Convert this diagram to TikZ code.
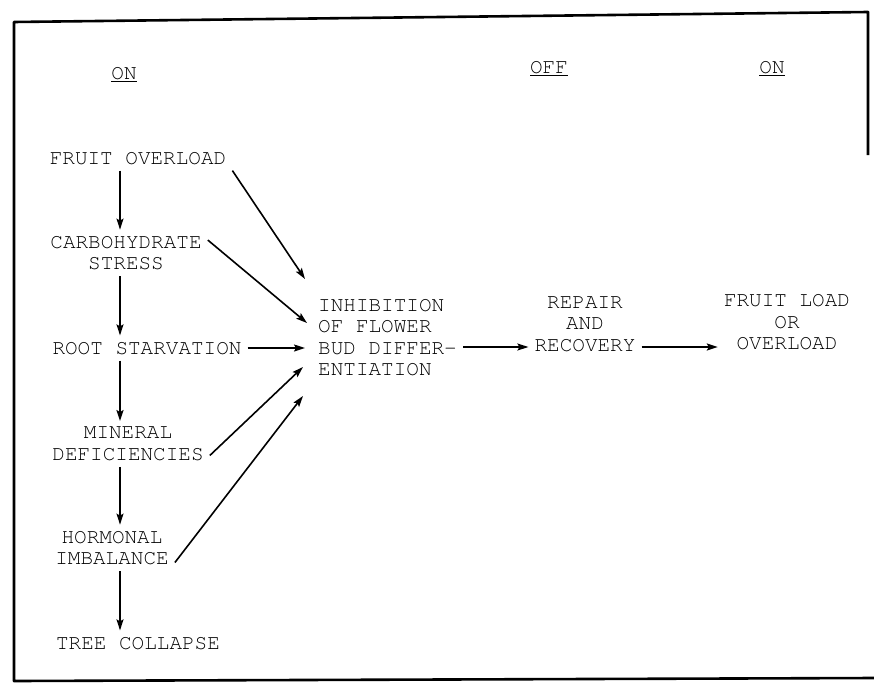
\documentclass[tikz,border=0pt]{standalone}
\usepackage[T1]{fontenc}
\usepackage{courier}
\usepackage{tikz}
\usetikzlibrary{arrows.meta,calc}
\tikzset{
  lbl/.style={font=\ttfamily\fontsize{21}{21.5}\selectfont,inner sep=6pt,align=center},
  flow/.style={line width=1.6pt,-{Stealth[length=11pt,width=7pt,inset=2pt]}},
  frame/.style={line width=2.6pt,line join=round},
}

\begin{document}
\begin{tikzpicture}[x=1pt,y=-1pt]
    \useasboundingbox (0,0) rectangle (874,682);
    % ------------- frame (right side only partly drawn) -------------
    \draw[frame] (868,155) -- (868,12) -- (14,22) -- (14,681) -- (874,678);
    % ------------- headings -------------
    \node[lbl] (on1) at (124,74) {\underline{ON}};
    \node[lbl] (off) at (549,68) {\underline{OFF}};
    \node[lbl] (on2) at (772,68) {\underline{ON}};
    % ------------- left column: the chain of causes -------------
    \node[lbl] (fo) at (138,158) {FRUIT OVERLOAD};
    \node[lbl] (cs) at (126,253) {CARBOHYDRATE\\STRESS};
    \node[lbl] (rs) at (147,348) {ROOT STARVATION};
    \node[lbl] (md) at (128,444) {MINERAL\\DEFICIENCIES};
    \node[lbl] (hi) at (112,548) {HORMONAL\\IMBALANCE};
    \node[lbl] (tc) at (138,643) {TREE COLLAPSE};
    % ------------- middle and right -------------
    \node[lbl,align=left,anchor=west] (inh) at (312,337.5) {INHIBITION\\OF FLOWER\\BUD DIFFER-\\ENTIATION};
    \node[lbl] (rr) at (585,324) {REPAIR\\AND\\RECOVERY};
    \node[lbl] (fl) at (787,322) {FRUIT LOAD\\OR\\OVERLOAD};
    % column of the down arrows, row of the right arrows
    \coordinate (col) at (120,0);
    \coordinate (row) at (0,347);
    % arrow heads arriving at the inhibition block
    \coordinate (i1) at (305,279);
    \coordinate (i2) at (307,323);
    \coordinate (i3) at (305,348);
    \coordinate (i4) at (303,367);
    \coordinate (i5) at (303,396);
    % ------------- arrows -------------
    \draw[flow] (fo.south -| col) -- (cs.north -| col);
    \draw[flow] (cs.south -| col) -- (rs.north -| col);
    \draw[flow] (rs.south -| col) -- (md.north -| col);
    \draw[flow] (md.south -| col) -- (hi.north -| col);
    \draw[flow] (hi.south -| col) -- (tc.north -| col);
    \draw[flow] (fo.south east) -- (i1);
    \draw[flow] (cs.9) -- (i2);
    \draw[flow] (rs.east) -- (i3);
    \draw[flow] (md.-8) -- (i4);
    \draw[flow] (hi.-13) -- (i5);
    \draw[flow] (inh.east |- row) -- (rr.west |- row);
    \draw[flow] (rr.east |- row) -- (fl.west |- row);
\end{tikzpicture}
\end{document}
